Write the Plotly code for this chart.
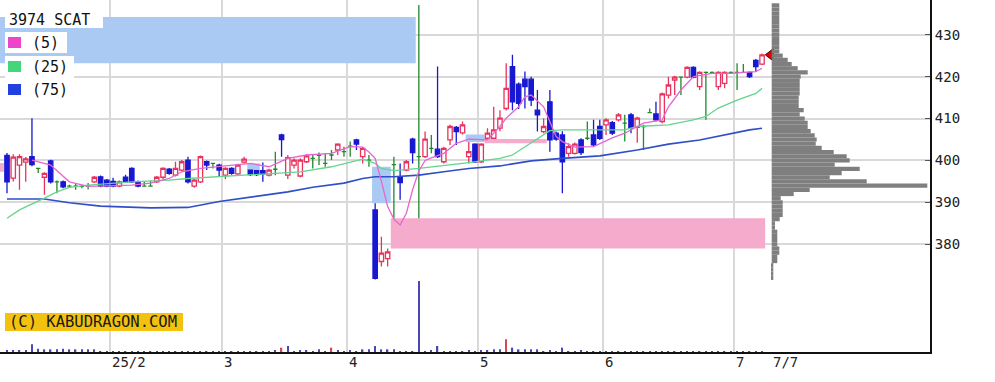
import plotly.graph_objects as go

# ---------------- data ----------------
TITLE = "3974 SCAT"
MA_LABELS = ["(5)", "(25)", "(75)"]
WATERMARK = "(C) KABUDRAGON.COM"

# daily OHLC, trading-day index 0 = 2025-01-08 ... 121 = 2025-07-07
opens = [401.2, 395.8, 398.9, 399.6, 400.9, 398.1, 396.0, 399.9, 394.9, 394.9,
         393.9, 393.9, 393.8, 393.9, 394.9, 396.1, 395.3, 395.0, 393.9, 396.0,
         398.1, 394.9, 393.9, 393.9, 394.9, 396.0, 397.9, 396.5, 397.7, 400.1,
         393.9, 394.9, 399.7, 399.3, 398.9, 396.5, 398.1, 396.8, 399.6, 397.7,
         397.6, 397.6, 396.5, 397.9, 406.1, 396.5, 398.9, 396.3, 399.7, 400.5,
         401.2, 399.3, 401.3, 402.5, 402.1, 403.4, 404.9, 400.9, 400.1, 388.2,
         375.9, 376.6, 399.0, 396.1, 397.7, 405.1, 400.9, 400.9, 402.9, 402.7,
         399.7, 404.9, 407.9, 406.6, 400.9, 403.9, 399.7, 405.3, 405.3, 407.7,
         412.4, 422.4, 418.2, 419.4, 419.4, 412.0, 406.9, 414.0, 406.5, 406.1,
         401.7, 401.7, 404.9, 405.3, 406.1, 408.1, 408.5, 409.0, 409.7, 408.9,
         410.9, 407.9, 408.1, 411.4, 411.1, 409.3, 415.6, 419.2, 419.9, 419.9,
         422.2, 417.6, 421.0, 421.0, 417.6, 418.4, 421.0, 421.0, 421.0, 421.0,
         423.9, 423.0]
highs = [401.8, 401.5, 401.5, 400.8, 410.1, 398.1, 397.2, 400.2, 395.2, 395.2,
         394.2, 394.6, 394.2, 394.6, 396.3, 396.4, 395.6, 395.9, 395.2, 396.6,
         398.4, 395.2, 395.0, 395.2, 396.3, 398.4, 398.2, 399.7, 400.1, 400.9,
         395.6, 401.2, 400.0, 399.3, 399.2, 398.4, 398.4, 399.2, 400.9, 397.7,
         397.7, 399.5, 398.0, 402.1, 406.4, 401.3, 400.5, 400.5, 401.5, 401.5,
         401.9, 401.7, 402.5, 404.1, 403.3, 404.5, 405.2, 403.2, 401.3, 389.8,
         381.8, 379.0, 400.9, 399.3, 400.1, 405.4, 437.1, 406.9, 406.1, 422.4,
         403.3, 408.5, 408.2, 409.3, 404.4, 404.1, 404.1, 407.7, 412.8, 412.0,
         423.2, 425.2, 418.6, 421.2, 420.0, 416.8, 410.1, 416.8, 406.9, 407.0,
         404.1, 404.3, 405.3, 409.3, 409.7, 409.7, 410.1, 409.4, 411.3, 410.9,
         411.3, 410.4, 408.5, 412.4, 414.0, 416.2, 420.0, 420.2, 419.9, 422.5,
         422.5, 421.3, 421.2, 421.2, 421.3, 421.3, 421.2, 423.2, 423.0, 421.2,
         424.2, 425.5]
lows = [392.2, 395.0, 393.0, 394.9, 398.6, 397.0, 391.8, 394.5, 392.2, 393.4,
        393.5, 393.0, 393.4, 393.1, 394.6, 393.6, 393.6, 393.6, 393.6, 394.6,
        394.6, 393.6, 393.9, 393.9, 394.6, 395.5, 396.6, 396.2, 397.4, 394.5,
        393.5, 394.6, 397.7, 398.1, 396.1, 395.5, 396.6, 396.5, 399.3, 396.3,
        396.3, 394.9, 396.2, 396.5, 400.9, 395.6, 398.1, 396.0, 399.4, 398.1,
        398.9, 398.5, 400.1, 401.3, 400.9, 400.9, 402.5, 399.3, 398.5, 371.6,
        374.7, 374.7, 386.2, 390.6, 397.4, 399.3, 386.2, 400.6, 401.7, 400.6,
        399.3, 403.7, 403.7, 406.2, 399.3, 399.4, 399.4, 405.1, 405.1, 407.0,
        411.9, 412.0, 412.3, 412.4, 413.0, 406.9, 406.5, 402.1, 404.7, 392.2,
        400.9, 401.4, 401.3, 404.9, 403.3, 404.9, 406.1, 406.1, 409.3, 404.5,
        406.5, 404.2, 402.5, 411.4, 409.3, 408.9, 414.8, 415.6, 415.6, 419.6,
        419.6, 416.8, 409.7, 420.6, 416.8, 417.2, 420.8, 416.8, 421.0, 419.7,
        421.2, 422.8]
closes = [394.9, 400.8, 400.9, 400.4, 399.0, 398.1, 396.9, 394.9, 394.9, 393.7,
          393.9, 393.9, 393.8, 393.9, 396.0, 393.9, 393.9, 393.9, 394.9, 394.9,
          394.9, 393.9, 393.9, 393.9, 396.0, 398.1, 396.9, 398.1, 399.7, 394.9,
          395.3, 400.9, 398.9, 399.3, 397.7, 398.1, 396.9, 398.9, 400.3, 396.6,
          396.6, 396.8, 397.7, 397.9, 405.0, 400.7, 400.1, 400.1, 401.1, 400.5,
          401.2, 399.3, 401.3, 403.9, 402.1, 403.4, 403.9, 402.9, 400.1, 371.9,
          377.9, 378.2, 399.0, 394.7, 399.7, 401.9, 400.9, 405.1, 402.9, 400.9,
          402.9, 408.1, 406.9, 408.5, 402.1, 399.7, 403.9, 406.5, 407.3, 410.1,
          417.2, 414.0, 413.6, 417.6, 414.4, 410.9, 408.1, 404.9, 405.1, 399.7,
          403.3, 403.9, 401.9, 405.3, 403.7, 405.3, 409.7, 406.5, 410.9, 408.9,
          407.7, 410.1, 408.1, 411.4, 409.7, 415.9, 418.0, 419.9, 419.9, 422.2,
          419.9, 421.0, 421.0, 421.0, 421.0, 421.0, 421.0, 421.0, 421.0, 420.0,
          422.4, 425.2]
volume = [40, 50, 40, 40, 230, 100, 80, 80, 80, 100,
          80, 80, 80, 80, 80, 30, 30, 20, 20, 20,
          30, 20, 20, 20, 20, 20, 20, 20, 20, 30,
          20, 30, 20, 20, 20, 20, 20, 20, 30, 30,
          20, 20, 20, 50, 130, 180, 30, 50, 50, 30,
          80, 30, 130, 50, 30, 50, 30, 80, 80, 180,
          80, 80, 80, 30, 30, 30, 2130, 30, 50, 180,
          30, 30, 30, 30, 50, 30, 50, 50, 80, 80,
          380, 130, 80, 80, 80, 80, 30, 50, 30, 130,
          30, 30, 50, 20, 20, 20, 20, 20, 20, 20,
          20, 20, 30, 20, 20, 20, 30, 20, 20, 30,
          20, 20, 30, 20, 20, 20, 20, 20, 20, 20,
          20, 20]

# moving averages read at sample days
ma5_idx = [4, 7, 10, 13, 20, 23, 26, 28, 31, 36, 39, 42, 45, 48, 52, 55, 57, 58,
           59, 60, 61, 62, 63, 64, 65, 66, 67, 68, 70, 72, 74, 77, 79, 80, 82, 83,
           84, 86, 87, 88, 89, 91, 94, 97, 99, 102, 105, 106, 108, 110, 113, 116,
           120, 121]
ma5_val = [400.1, 398.9, 394.9, 393.8, 394.1, 394.6, 395.7, 397.3, 398.1, 398.9,
           399.3, 398.5, 400.5, 401.3, 401.7, 403.3, 403.2, 402.0, 400.5, 395.0,
           389.0, 386.0, 384.6, 387.4, 393.0, 397.5, 400.0, 400.6, 401.7, 404.1,
           405.1, 404.9, 408.1, 410.1, 412.8, 415.2, 415.6, 412.8, 409.3, 405.7,
           404.5, 403.2, 403.3, 405.4, 406.5, 408.9, 409.7, 412.8, 416.8, 420.0,
           420.8, 420.8, 421.2, 422.0]
ma25_idx = [0, 2, 6, 8, 10, 13, 20, 26, 29, 36, 42, 47, 52, 57, 59, 60, 62, 66,
            73, 79, 81, 84, 86, 87, 89, 99, 101, 106, 110, 112, 114, 117, 120, 121]
ma25_val = [386.2, 388.2, 391.0, 392.5, 393.6, 394.1, 394.9, 395.3, 395.7, 396.3,
            396.8, 397.3, 398.5, 400.3, 399.3, 398.1, 397.6, 398.1, 399.3, 400.5,
            401.3, 404.1, 406.1, 407.1, 407.3, 407.3, 408.1, 408.5, 409.7, 410.5,
            412.5, 414.4, 416.0, 417.2]
ma75_idx = [0, 6, 10, 15, 23, 29, 34, 40, 45, 49, 54, 57, 59, 62, 66, 70, 74, 79,
            84, 89, 95, 101, 106, 111, 115, 119, 121]
ma75_val = [390.8, 390.8, 389.9, 389.1, 388.7, 388.8, 390.2, 391.4, 392.5, 393.6,
            394.6, 395.7, 396.1, 396.1, 396.5, 397.3, 398.1, 398.7, 399.9, 400.5,
            401.1, 402.5, 403.9, 404.9, 406.1, 407.3, 407.7]

# price gaps (windows): opening day, filling day (None = still open), range, direction
gap_open_day = [-1, -1, 39, 59, 62, 74, 77]
gap_fill_day = [66, 0, 41, 62, None, 77, 87]
gap_low = [423.2, 397.3, 397.7, 389.8, 379.0, 404.4, 404.1]
gap_high = [434.2, 399.4, 399.3, 398.5, 386.2, 406.2, 405.1]
gap_dir = ["down", "up", "down", "down", "up", "down", "up"]

# volume-at-price profile
profile_price = list(range(437, 371, -1))
profile_vol = [76, 76, 76, 76, 76, 76, 76, 76, 76, 76, 76, 76,
               110, 160, 200, 260, 360, 290, 280, 280, 280, 280, 270, 270, 270,
               320, 280, 330, 360, 360, 390, 430, 450, 440, 500, 620, 750, 780,
               630, 880, 700, 580, 950, 1556, 380, 220, 90, 110, 110, 110, 110,
               80, 33, 33, 56, 56, 56, 56, 76, 76, 56, 56, 16, 16, 16, 16]

month_start_idx = [17, 35, 55, 76, 96, 117]
month_labels = ["25/2", "3", "4", "5", "6", "7"]
last_date_label = "7/7"
price_ticks = [380, 390, 400, 410, 420, 430]

# ---------------- styling / geometry ----------------
W, H = 995, 382
PLOT_W, PLOT_H = 930, 352
X0_PX, DX_PX = 7.0, 6.24          # pixel of day 0 and pixels per day
Y_TOP, PX_PER_YEN = 438.28, 4.192
PROFILE_X0_PX = 771.7

UP_C, DOWN_C, DOJI_C = "#e8335e", "#1818d2", "#1f8a2a"
MA5_C, MA25_C, MA75_C = "#e466d0", "#62d58e", "#2e4fc8"
GAP_DOWN_C, GAP_UP_C = "#abcaf3", "#f5abcb"
MONO = "DejaVu Sans Mono"

n = len(closes)
xr = [(0 - X0_PX) / DX_PX, (PLOT_W - X0_PX) / DX_PX]
yr = [Y_TOP - PLOT_H / PX_PER_YEN, Y_TOP]


def px(xp):
    return xp / PLOT_W


def py(yp):
    return 1 - yp / PLOT_H


fig = go.Figure()

# volume profile (own hidden x axis, 1 unit = 0.1 px)
fig.add_trace(go.Bar(x=profile_vol, y=profile_price, orientation="h", xaxis="x2", yaxis="y",
                     marker=dict(color="#7f7f7f", line=dict(width=0)), width=1.0,
                     hoverinfo="skip"))

# volume bars
vcol = []
for i in range(n):
    prev = closes[i - 1] if i > 0 else opens[i]
    vcol.append("#d04a5a" if closes[i] > prev and volume[i] >= 100 else "#4848b0")
fig.add_trace(go.Bar(x=list(range(n)), y=volume, yaxis="y2", marker=dict(color=vcol, line=dict(width=0)),
                     width=0.22, hoverinfo="skip"))

# moving averages
fig.add_trace(go.Scatter(x=ma75_idx, y=ma75_val, mode="lines", line=dict(color=MA75_C, width=1.6),
                         hoverinfo="skip"))
fig.add_trace(go.Scatter(x=ma25_idx, y=ma25_val, mode="lines", line=dict(color=MA25_C, width=1.3),
                         hoverinfo="skip"))
fig.add_trace(go.Scatter(x=ma5_idx, y=ma5_val, mode="lines", line=dict(color=MA5_C, width=1.3),
                         hoverinfo="skip"))


def candles(sel, line_c, fill_c):
    idx = [i for i in range(n) if sel(i)]
    st = dict(line=dict(color=line_c, width=1.3), fillcolor=fill_c)
    return go.Candlestick(x=idx, open=[opens[i] for i in idx], high=[highs[i] for i in idx],
                          low=[lows[i] for i in idx], close=[closes[i] for i in idx],
                          increasing=st, decreasing=st, whiskerwidth=0, hoverinfo="skip")


fig.add_trace(candles(lambda i: closes[i] > opens[i], UP_C, "white"))
fig.add_trace(candles(lambda i: closes[i] < opens[i], DOWN_C, DOWN_C))
fig.add_trace(candles(lambda i: closes[i] == opens[i], DOJI_C, DOJI_C))

# last price marker
fig.add_trace(go.Scatter(x=[n - 1 + 1.4], y=[closes[-1]], mode="markers",
                         marker=dict(symbol="triangle-left", size=11, color="#e00000",
                                     line=dict(color="#500000", width=1)), hoverinfo="skip"))

shapes = []
for o, f, lo, hi, d in zip(gap_open_day, gap_fill_day, gap_low, gap_high, gap_dir):
    x1 = (f if f is not None else n) - 0.5
    shapes.append(dict(type="rect", xref="x", yref="y", x0=o - 0.5, x1=x1, y0=lo, y1=hi,
                       fillcolor=GAP_DOWN_C if d == "down" else GAP_UP_C, line=dict(width=0),
                       layer="between"))

# legend boxes and swatches
for (x0, y0, x1, y1) in [(5, 8, 103, 28), (5, 32, 67, 53), (5, 56, 74, 78), (5, 80, 74, 99)]:
    shapes.append(dict(type="rect", xref="paper", yref="paper", x0=px(x0), x1=px(x1),
                       y0=py(y1), y1=py(y0), fillcolor="white", line=dict(width=0), layer="above"))
for c, (y0, y1) in zip(["#ee44cc", "#44d67a", "#2040e0"], [(37, 48), (61, 72), (84, 95)]):
    shapes.append(dict(type="rect", xref="paper", yref="paper", x0=px(8), x1=px(21),
                       y0=py(y1), y1=py(y0), fillcolor=c, line=dict(width=0), layer="above"))
# watermark plate
shapes.append(dict(type="rect", xref="paper", yref="paper", x0=px(5), x1=px(183),
                   y0=py(331), y1=py(313), fillcolor="#f3c20f", line=dict(width=0), layer="above"))

ann = []
ann.append(dict(text=TITLE, xref="paper", yref="paper", x=px(7), y=py(20), xanchor="left",
                yanchor="middle", showarrow=False, font=dict(family=MONO, size=15, color="#111")))
for t, yy in zip(MA_LABELS, [43, 67, 90]):
    ann.append(dict(text=t, xref="paper", yref="paper", x=px(30), y=py(yy), xanchor="left",
                    yanchor="middle", showarrow=False, font=dict(family=MONO, size=15, color="#111")))
ann.append(dict(text=WATERMARK, xref="paper", yref="paper", x=px(7), y=py(322), xanchor="left",
                yanchor="middle", showarrow=False, font=dict(family=MONO, size=15.5, color="#1a1a1a")))
for s, lab in zip(month_start_idx, month_labels):
    ann.append(dict(text=lab, xref="x", yref="paper", x=s - 0.5, y=0, xanchor="left", yanchor="top",
                    showarrow=False, font=dict(family=MONO, size=14, color="#222")))
ann.append(dict(text=last_date_label, xref="x", yref="paper", x=n - 1 + 1.5, y=0, xanchor="left",
                yanchor="top", showarrow=False, font=dict(family=MONO, size=14, color="#222")))

fig.update_layout(
    width=W, height=H, margin=dict(l=0, r=W - PLOT_W, t=0, b=H - PLOT_H),
    paper_bgcolor="white", plot_bgcolor="white", showlegend=False,
    boxgap=0.3, boxgroupgap=0,
    shapes=shapes, annotations=ann,
    xaxis=dict(range=xr, tickvals=[s - 0.5 for s in month_start_idx], showticklabels=False,
               ticks="", showgrid=True, gridcolor="#d9d9d9", gridwidth=1.5, zeroline=False,
               showline=True, linecolor="#111", linewidth=2, rangeslider=dict(visible=False),
               fixedrange=True),
    xaxis2=dict(overlaying="x", anchor="y", visible=False,
                range=[-PROFILE_X0_PX * 10, (PLOT_W - PROFILE_X0_PX) * 10], fixedrange=True),
    yaxis=dict(range=yr, side="right", tickvals=price_ticks, showgrid=True, gridcolor="#d9d9d9",
               gridwidth=1.5, zeroline=False, showline=True, linecolor="#111", linewidth=2,
               ticks="inside", ticklen=5, tickcolor="#555",
               tickfont=dict(family=MONO, size=14, color="#222"), fixedrange=True),
    yaxis2=dict(overlaying="y", range=[0, PLOT_H * 30], visible=False, fixedrange=True),
)

fig.write_html("out.html", config={"displayModeBar": False},
               post_script="document.body.style.margin='0px';document.body.style.overflow='hidden';")
